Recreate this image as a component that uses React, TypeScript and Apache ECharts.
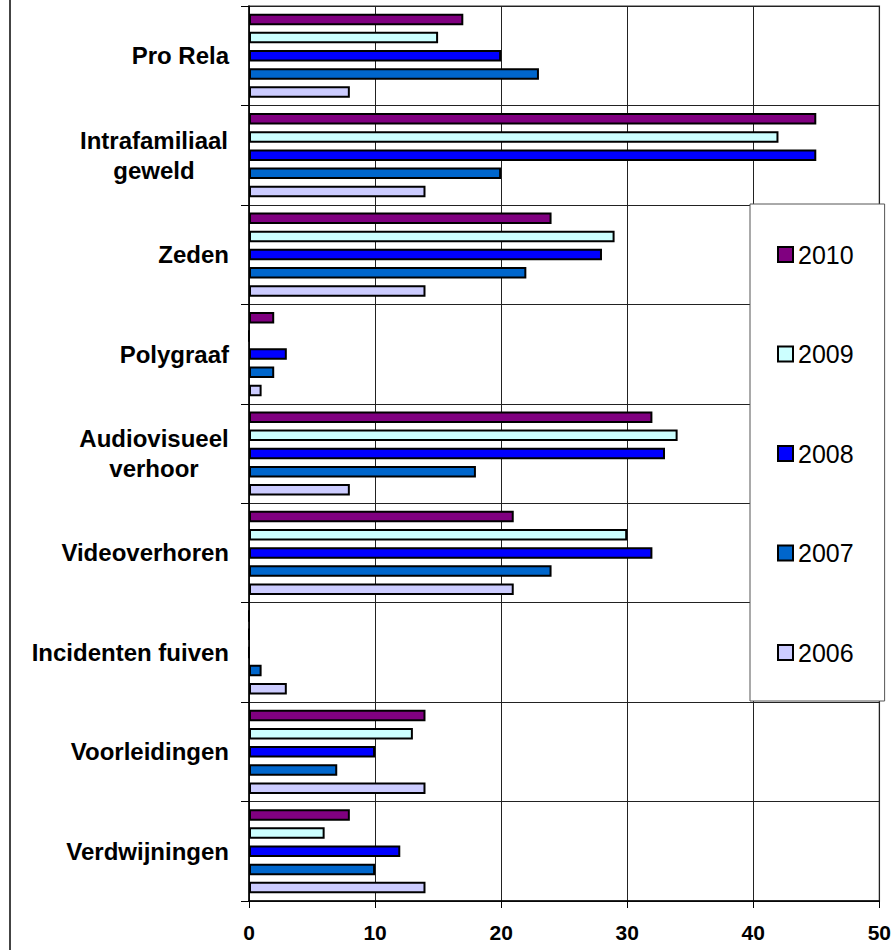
import React, { useEffect, useRef } from "react";
import * as echarts from "echarts";

const categories = [
  "Pro Rela",
  "Intrafamiliaal\ngeweld",
  "Zeden",
  "Polygraaf",
  "Audiovisueel\nverhoor",
  "Videoverhoren",
  "Incidenten fuiven",
  "Voorleidingen",
  "Verdwijningen",
];

const years = ["2010", "2009", "2008", "2007", "2006"];

const values2010 = [17, 45, 24, 2, 32, 21, 0, 14, 8];
const values2009 = [15, 42, 29, 0, 34, 30, 0, 13, 6];
const values2008 = [20, 45, 28, 3, 33, 32, 0, 10, 12];
const values2007 = [23, 20, 22, 2, 18, 24, 1, 7, 10];
const values2006 = [8, 14, 14, 1, 8, 21, 3, 14, 14];

const xTicks = [0, 10, 20, 30, 40, 50];

const colors = ["#800080", "#CCFFFF", "#0000FF", "#0066CC", "#CCCCFF"];

export default function App() {
  const ref = useRef<HTMLDivElement>(null);
  useEffect(() => {
    document.body.style.margin = "0";
    if (!ref.current) return;
    const chart = echarts.init(ref.current, null, { renderer: "svg" });
    const seriesValues = [values2010, values2009, values2008, values2007, values2006];
    const font = "'Liberation Sans', Arial, sans-serif";
    chart.setOption({
      animation: false,
      backgroundColor: "#fff",
      textStyle: { fontFamily: font },
      grid: {
        left: 249,
        right: 14,
        top: 6,
        bottom: 49,
        show: true,
        borderColor: "#777",
        borderWidth: 1.5,
        backgroundColor: "transparent",
      },
      xAxis: {
        type: "value",
        min: xTicks[0],
        max: xTicks[xTicks.length - 1],
        interval: 10,
        axisLine: { show: true, lineStyle: { color: "#000", width: 1.5 } },
        axisTick: { show: true, length: 7, lineStyle: { color: "#000" } },
        splitLine: { show: true, lineStyle: { color: "#222", width: 1 } },
        axisLabel: {
          color: "#000",
          fontSize: 21,
          fontWeight: "bold",
          fontFamily: font,
          margin: 21,
        },
      },
      yAxis: {
        type: "category",
        inverse: true,
        data: categories,
        axisLine: { show: true, lineStyle: { color: "#000", width: 1.5 } },
        axisTick: { show: true, length: 8, lineStyle: { color: "#000" } },
        splitLine: { show: true, lineStyle: { color: "#222", width: 1 } },
        axisLabel: {
          color: "#000",
          fontSize: 24,
          fontWeight: "bold",
          fontFamily: font,
          margin: 20,
          lineHeight: 30,
          formatter: (v: string) => {
            if (v.indexOf("\n") >= 0) {
              return v
                .split("\n")
                .map((s) => "{c|" + s + "}")
                .join("\n");
            }
            return v;
          },
          rich: {
            c: {
              width: 150,
              align: "center",
              fontSize: 24,
              fontWeight: "bold",
              fontFamily: font,
              color: "#000",
              lineHeight: 30,
            },
          },
        },
      },
      legend: {
        orient: "vertical",
        left: 750,
        top: 204,
        data: years,
        padding: [38, 31, 36, 27],
        itemGap: 74.5,
        itemWidth: 15,
        itemHeight: 15,
        icon: "rect",
        borderColor: "#555",
        borderWidth: 1,
        backgroundColor: "#fff",
        itemStyle: { borderColor: "#000", borderWidth: 2 },
        textStyle: {
          fontSize: 25,
          lineHeight: 25,
          color: "#000",
          fontFamily: font,
        },
      },
      graphic: [
        {
          type: "line",
          shape: { x1: 10, y1: 0, x2: 10, y2: 950 },
          style: { stroke: "#444", lineWidth: 2 },
        },
      ],
      series: years.map((y, i) => ({
        name: y,
        type: "bar",
        data: seriesValues[i],
        barWidth: 11.5,
        barGap: "58%",
        itemStyle: { color: colors[i], borderColor: "#000", borderWidth: 2 },
      })),
    });
    return () => chart.dispose();
  }, []);
  return <div ref={ref} style={{ width: 894, height: 950 }} />;
}
